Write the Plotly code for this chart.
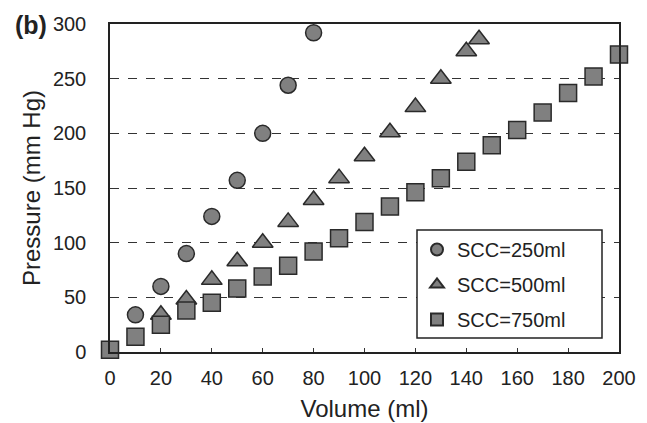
import plotly.graph_objects as go

x250 = [10, 20, 30, 40, 50, 60, 70, 80]
y250 = [34, 60, 90, 124, 157, 200, 244, 292]

x500 = [20, 30, 40, 50, 60, 70, 80, 90, 100, 110, 120, 130, 140, 145]
y500 = [34, 48, 66, 83, 100, 119, 139, 159, 179, 201, 224, 250, 275, 286]

x750 = [0, 10, 20, 30, 40, 50, 60, 70, 80, 90, 100, 110, 120, 130, 140, 150, 160, 170, 180, 190, 200]
y750 = [2, 14, 25, 38, 45, 58, 69, 79, 92, 104, 119, 133, 146, 159, 174, 189, 203, 219, 237, 252, 272]

xticks = [0, 20, 40, 60, 80, 100, 120, 140, 160, 180, 200]
yticks = [0, 50, 100, 150, 200, 250, 300]

fill = "#808080"
edge = "#2a2a2a"
font = "Liberation Sans, Arial, sans-serif"

W, H = 647, 423
L, T, R, B = 102, 16, 36, 79

fig = go.Figure()
fig.add_trace(go.Scatter(x=x250, y=y250, mode="markers", name="SCC=250ml", legendgroup="a",
                         marker=dict(symbol="circle", size=16, color=fill,
                                     line=dict(color=edge, width=1.5)),
                         cliponaxis=False))
fig.add_trace(go.Scatter(x=x500, y=y500, mode="markers", name="SCC=500ml", legendgroup="b",
                         marker=dict(symbol="triangle-up", size=18, color=fill,
                                     line=dict(color=edge, width=1.5)),
                         cliponaxis=False))
fig.add_trace(go.Scatter(x=x750, y=y750, mode="markers", name="SCC=750ml", legendgroup="c",
                         marker=dict(symbol="square", size=17, color=fill,
                                     line=dict(color=edge, width=1.5)),
                         cliponaxis=False))

pw, ph = W - L - R, H - T - B
fig.update_layout(
    width=W, height=H,
    margin=dict(l=L, r=R, t=T, b=B),
    paper_bgcolor="white", plot_bgcolor="white",
    font=dict(family=font, size=20, color="#222"),
    showlegend=True,
    legend=dict(x=(409 - L) / pw, y=1 - (222 - T) / ph, xanchor="left", yanchor="top",
                bgcolor="rgba(0,0,0,0)", borderwidth=0,
                font=dict(size=20), itemsizing="constant",
                tracegroupgap=6),
    shapes=[dict(type="rect", xref="paper", yref="paper",
                 x0=(409 - L) / pw, x1=(594 - L) / pw,
                 y0=1 - (330 - T) / ph, y1=1 - (222 - T) / ph,
                 line=dict(color="#222", width=1.5), fillcolor="white", layer="above")],
    annotations=[dict(text="<b>(b)</b>", x=(5 - L) / pw, y=1 - (17.5 - T) / ph,
                      xref="paper", yref="paper",
                      showarrow=False, font=dict(size=25, color="#222"),
                      xanchor="left", yanchor="middle")],
)

fig.update_xaxes(range=[0, 200], tickvals=xticks, ticks="inside", ticklen=4,
                 tickcolor="#333", showgrid=False, showline=True, linecolor="#222",
                 linewidth=1.5, mirror=True, zeroline=False,
                 title=dict(text="Volume (ml)", standoff=12),
                 ticklabelstandoff=7, automargin=False)
fig.update_yaxes(range=[0, 300], tickvals=yticks, ticks="", showgrid=True,
                 gridcolor="#333", griddash="dash", gridwidth=1,
                 showline=True, linecolor="#222", linewidth=1.5, mirror=True,
                 zeroline=False, title=dict(text="Pressure (mm Hg)", standoff=5),
                 ticklabelstandoff=18, automargin=False)

fig.write_html("out.html")
